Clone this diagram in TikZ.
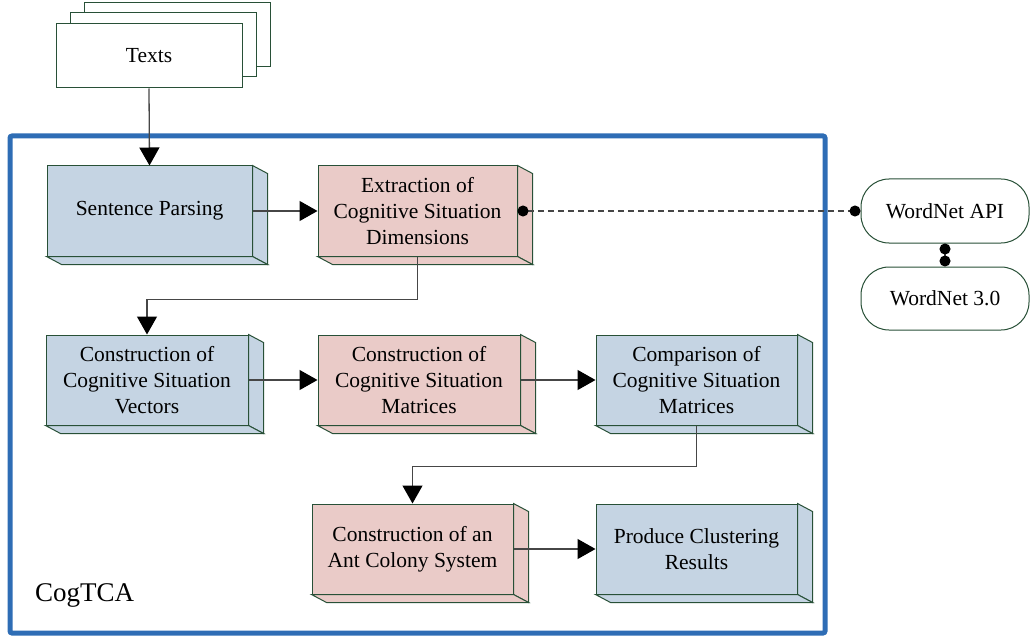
\documentclass[tikz,border=0pt]{standalone}
\usepackage{fontspec}
\setmainfont{Liberation Serif}
\usetikzlibrary{calc,arrows.meta}
\definecolor{blueF}{RGB}{197,212,227}
\definecolor{pinkF}{RGB}{234,203,200}
\definecolor{edgeG}{RGB}{40,80,55}
\definecolor{frameB}{RGB}{46,109,181}
\definecolor{lineG}{RGB}{70,70,70}
\tikzset{
  blk/.style={draw=edgeG, line width=1pt, minimum width=202pt, minimum height=90pt, inner sep=0pt,
    align=center, font=\fontsize{21.5}{26}\selectfont},
  face/.style={draw=edgeG, line width=1pt},
  page/.style={draw=edgeG, line width=1pt, fill=white, minimum width=186pt, minimum height=64pt, inner sep=0pt,
    font=\fontsize{21.5}{26}\selectfont},
  rbox/.style={draw=edgeG, line width=1pt, fill=white, rounded corners=28pt, minimum width=168pt, minimum height=64pt,
    inner sep=0pt, font=\fontsize{21.5}{26}\selectfont},
  arr/.style={draw=lineG, line width=1.3pt, -{Triangle[length=18pt,width=20pt,color=black]}},
  dotline/.style={draw=lineG, line width=1.2pt, {Circle[length=11pt,color=black]}-{Circle[length=11pt,color=black]}},
}
\begin{document}
\begin{tikzpicture}[x=1pt,y=-1pt]
\useasboundingbox (0,0) rectangle (1030,639);
% frame
\draw[frameB, line width=5pt, rounded corners=2pt] (10,136) rectangle (825,633);
\node[anchor=base west, inner sep=0pt, font=\fontsize{27}{32}\selectfont] (lbl) at (35,601) {CogTCA};
% Texts stack
\node[page] (p3) at (177,35) {};
\node[page] (p2) at (163,45) {};
\node[page] (texts) at (149,56) {Texts};
% blocks
\node[blk, fill=blueF, minimum width=205pt] (sp) at (149.5,211) {Sentence Parsing};
\node[blk, fill=pinkF, minimum width=199pt] (ex) at (417.5,211) {Extraction of\\Cognitive Situation\\Dimensions};
\node[blk, fill=blueF] (cv) at (147,380) {Construction of\\Cognitive Situation\\Vectors};
\node[blk, fill=pinkF] (cm) at (419,380) {Construction of\\Cognitive Situation\\Matrices};
\node[blk, fill=blueF, minimum width=201pt] (cp) at (696.5,380) {Comparison of\\Cognitive Situation\\Matrices};
\node[blk, fill=pinkF, minimum width=201pt] (ac) at (412.5,549) {Construction of an\\Ant Colony System};
\node[blk, fill=blueF, minimum width=201pt] (pc) at (696.5,549) {Produce Clustering\\Results};
\foreach \n/\c in {sp/blueF, ex/pinkF, cv/blueF, cm/pinkF, cp/blueF, ac/pinkF, pc/blueF}{
  \filldraw[face, fill=\c] (\n.north east) -- ++(15,8) -- ($(\n.south east)+(15,8)$) -- (\n.south east) -- cycle;
  \filldraw[face, fill=\c] (\n.south west) -- ++(15,8) -- ($(\n.south east)+(15,8)$) -- (\n.south east) -- cycle;
}
% WordNet
\node[rbox] (api) at (945,211) {WordNet API};
\node[rbox, minimum height=63pt] (wn) at (945,298.5) {WordNet 3.0};
% connectors
\draw[arr] (texts.south) -- (sp.north);
\draw[arr] (sp.east) -- (ex.west);
\draw[arr] (ex.south) -- ++(0,43) -| (cv.north);
\draw[arr] (cv.east) -- (cm.west);
\draw[arr] (cm.east) -- (cp.west);
\draw[arr] (cp.south) -- ++(0,41) -| (ac.north);
\draw[arr] (ac.east) -- (pc.west);
\draw[dotline, dash pattern=on 6pt off 4pt] (ex.east) -- (api.west);
\draw[dotline] (api.south) -- (wn.north);
\end{tikzpicture}
\end{document}
